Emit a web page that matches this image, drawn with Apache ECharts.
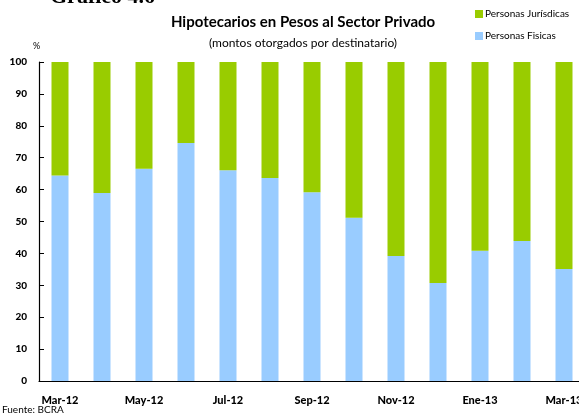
<!DOCTYPE html>
<html>
<head>
<meta charset="utf-8">
<script src="https://cdn.jsdelivr.net/npm/echarts@6/dist/echarts.min.js"></script>
<style>
  html, body { margin: 0; padding: 0; background: #fff; }
  #chart { width: 579px; height: 419px; }
</style>
</head>
<body>
<div id="chart"></div>
<script>
// meses (mar-12 a mar-13)
var months = ['Mar-12', 'Abr-12', 'May-12', 'Jun-12', 'Jul-12', 'Ago-12', 'Sep-12',
  'Oct-12', 'Nov-12', 'Dic-12', 'Ene-13', 'Feb-13', 'Mar-13']
// % sobre el total
var fisicas = [64.4, 58.9, 66.5, 74.6, 66.1, 63.6, 59.2, 51.2, 39.2, 30.7, 40.8, 43.9, 35.1]
var juridicas = [35.6, 41.1, 33.5, 25.4, 33.9, 36.4, 40.8, 48.8, 60.8, 69.3, 59.2, 56.1, 64.9]
var yTicks = [0, 10, 20, 30, 40, 50, 60, 70, 80, 90, 100]

var font = 'Lato, "DejaVu Sans", sans-serif'
var myChart = echarts.init(document.getElementById('chart'))

var option = {
  animation: false,
  textStyle: { fontFamily: font },
  title: [{
    text: 'Hipotecarios en Pesos al Sector Privado',
    left: 298,
    textAlign: 'center',
    top: 10,
    textStyle: { fontSize: 15, fontWeight: 'bold', color: '#000', fontFamily: font }
  }, {
    text: '(montos otorgados por destinatario)',
    left: 298,
    textAlign: 'center',
    top: 32,
    textStyle: { fontSize: 12, fontWeight: 'normal', color: '#000', fontFamily: font }
  }],
  graphic: [{
    type: 'text',
    left: 50,
    top: -14,
    style: { text: 'Gráfico 4.6', font: 'bold 22px "Liberation Serif", serif', fill: '#000' }
  }, {
    type: 'text',
    left: 33,
    top: 42,
    style: { text: '%', font: '9px ' + font, fill: '#000' }
  }, {
    type: 'text',
    left: 2,
    top: 405,
    style: { text: 'Fuente: BCRA', font: '10px ' + font, fill: '#000' }
  }],
  legend: {
    orient: 'vertical',
    left: 470,
    top: 4,
    itemWidth: 8,
    itemHeight: 8,
    itemGap: 12,
    icon: 'rect',
    data: ['Personas Jurísdicas', 'Personas Fisicas'],
    textStyle: { fontSize: 10, color: '#000', fontFamily: font, padding: [0, 0, 0, -3] }
  },
  grid: { left: 39, top: 62, width: 546, height: 319, outerBoundsMode: 'none', containLabel: false },
  xAxis: {
    type: 'category',
    data: months,
    axisLine: { lineStyle: { color: '#000', width: 1.2 } },
    axisTick: { inside: true, length: 5, interval: 1, lineStyle: { color: '#000' } },
    axisLabel: { interval: 1, margin: 14, fontSize: 11, fontWeight: 900, color: '#000', fontFamily: font }
  },
  yAxis: {
    type: 'value',
    min: yTicks[0],
    max: yTicks[yTicks.length - 1],
    interval: 10,
    splitLine: { show: false },
    axisLine: { show: true, lineStyle: { color: '#000', width: 1.2 } },
    axisTick: { show: true, inside: true, length: 5, lineStyle: { color: '#000' } },
    axisLabel: { margin: 12, fontSize: 10, fontWeight: 900, color: '#000', fontFamily: font }
  },
  series: [{
    name: 'Personas Fisicas',
    type: 'bar',
    stack: 'total',
    barWidth: 17,
    itemStyle: { color: '#99CCFF' },
    data: fisicas
  }, {
    name: 'Personas Jurísdicas',
    type: 'bar',
    stack: 'total',
    barWidth: 17,
    itemStyle: { color: '#99CC00' },
    data: juridicas
  }]
}
myChart.setOption(option)
</script>
</body>
</html>
